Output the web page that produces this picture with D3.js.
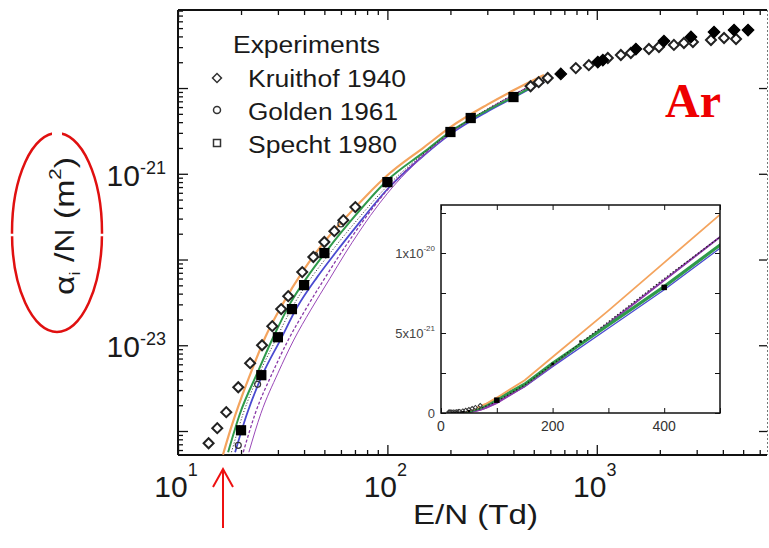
<!DOCTYPE html>
<html><head><meta charset="utf-8">
<script src="https://cdn.jsdelivr.net/npm/d3@7/dist/d3.min.js"></script>
<style>body{margin:0;background:#fff;} svg{display:block;font-family:"Liberation Sans",Arial,sans-serif;}</style>
</head><body><svg id="c" width="769" height="548"></svg>
<script>
// ---------- data ----------
const kruithofE = [14, 15.4, 17, 19.4, 22.1, 25.2, 28.2, 31.1, 33.6, 39.2, 44.3, 50, 55.8, 61.6, 70.3, 483, 528, 583, 794, 916, 1129, 1303, 1454, 1774, 1981, 2335, 2607, 2878, 3510, 4053, 4624];
const kruithofV = [7.2e-25, 1.08e-24, 1.66e-24, 3.24e-24, 6.18e-24, 1.0e-23, 1.67e-23, 2.64e-23, 3.74e-23, 7.13e-23, 1.07e-22, 1.6e-22, 2.14e-22, 2.88e-22, 4.09e-22, 1.05e-20, 1.17e-20, 1.31e-20, 1.71e-20, 1.85e-20, 2.24e-20, 2.43e-20, 2.56e-20, 2.85e-20, 3.01e-20, 3.18e-20, 3.35e-20, 3.44e-20, 3.63e-20, 3.83e-20, 3.73e-20];
const filledDiamondE = [673, 1011, 1069, 1537, 2093, 2817, 3630, 4525, 5277];
const filledDiamondV = [1.46e-20, 2.01e-20, 2.12e-20, 2.85e-20, 3.53e-20, 3.94e-20, 4.5e-20, 4.75e-20, 4.75e-20];
const goldenE = [19.4, 24, 45, 60];
const goldenV = [6.8e-25, 3.5e-24, 1.12e-22, 2.6e-22];
const spechtE = [20, 25, 30, 35, 40, 50, 100, 200, 250, 400];
const spechtV = [1.02e-24, 4.48e-24, 1.24e-23, 2.64e-23, 5.03e-23, 1.19e-22, 8.0e-22, 3.07e-21, 4.47e-21, 7.85e-21];

// model curves
const orangeE = [16.4, 17.7, 20.2, 22.6, 26.1, 31.8, 39.2, 49.4, 61.6, 80, 100, 150, 200, 300, 400, 500, 560];
const orangeV = [5.3e-25, 9.9e-25, 2.55e-24, 5.24e-24, 1.24e-23, 3.1e-23, 7.13e-23, 1.55e-22, 2.88e-22, 5.67e-22, 9.6e-22, 2.05e-21, 3.5e-21, 6.4e-21, 9.4e-21, 1.24e-20, 1.42e-20];
const greenE = [17.35, 19.8, 23.9, 28.5, 34.4, 41.4, 51.6, 70, 100, 150, 200, 300, 400, 500, 560];
const greenV = [5.66e-25, 1.61e-24, 4.72e-24, 1.24e-23, 3.1e-23, 6.23e-23, 1.29e-22, 3.22e-22, 8.4e-22, 1.8e-21, 3.1e-21, 5.5e-21, 7.9e-21, 1.05e-20, 1.18e-20];
const blueE = [18.74, 21.4, 25.5, 30.8, 37.1, 46.2, 56.4, 70, 100, 150, 200, 300, 400, 500, 560];
const blueV = [5.66e-25, 1.61e-24, 4.72e-24, 1.15e-23, 2.79e-23, 6.23e-23, 1.19e-22, 2.32e-22, 6.6e-22, 1.65e-21, 2.9e-21, 5.3e-21, 7.7e-21, 1.03e-20, 1.16e-20];
const purpleE = [20.5, 23.4, 28.2, 33.6, 40.5, 50, 60, 70, 80, 100, 150, 200, 300, 400, 500, 560];
const purpleV = [5.66e-25, 1.61e-24, 4.72e-24, 1.15e-23, 2.57e-23, 5.95e-23, 1.19e-22, 2.07e-22, 3.26e-22, 6.5e-22, 1.7e-21, 3.0e-21, 5.6e-21, 8.3e-21, 1.1e-20, 1.24e-20];
const purple2E = [21.8, 24.9, 30, 35.7, 43, 53, 63, 73, 83, 100, 150, 200, 300, 400, 500, 560];
const purple2V = [5.66e-25, 1.61e-24, 4.72e-24, 1.15e-23, 2.57e-23, 5.95e-23, 1.19e-22, 2.07e-22, 3.26e-22, 5.9e-22, 1.65e-21, 2.95e-21, 5.6e-21, 8.3e-21, 1.1e-20, 1.24e-20];
const dottedE = [18, 20.5, 24.5, 29.5, 35.5, 43.5, 54, 70, 100, 150, 200, 300, 400, 500, 560];
const dottedV = [5.66e-25, 1.61e-24, 4.72e-24, 1.2e-23, 2.9e-23, 6.23e-23, 1.24e-22, 2.7e-22, 7.2e-22, 1.75e-21, 3.05e-21, 5.7e-21, 8.4e-21, 1.1e-20, 1.24e-20];

// ticks / labels
const xMajor = [10, 100, 1000];
const xMajorExp = ["1", "2", "3"];
const yLabelVals = [1e-21, 1e-23];
const yLabelExp = ["-21", "-23"];
const insetXTicks = [0, 100, 200, 300, 400, 500];
const insetXLabels = [0, 200, 400];
const insetYTicks = [0, 2.5e-21, 5e-21, 7.5e-21, 1e-20, 1.25e-20];
const legendNames = ["Kruithof 1940", "Golden 1961", "Specht 1980"];

// ---------- layout ----------
const svg = d3.select("#c");
const L = 178, R = 767, T = 10, B = 455;
const x = d3.scaleLog().domain([10, 6500]).range([L, R]);
const y = d3.scaleLog().domain([5.25e-25, 8.13e-20]).range([B, T]);

svg.append("defs").append("clipPath").attr("id", "clipMain")
  .append("rect").attr("x", L).attr("y", T).attr("width", R - L).attr("height", B - T);

const zip = (a, b) => a.map((v, i) => [v, b[i]]);
const curves = [
  {E: blueE, V: blueV, c: "#4a4ad0", w: 1.8, d: null},
  {E: purple2E, V: purple2V, c: "#9a48b8", w: 1, d: null},
  {E: purpleE, V: purpleV, c: "#8a3aa8", w: 1.3, d: "3,2"},
  {E: greenE, V: greenV, c: "#2f9a4a", w: 2, d: null},
  {E: dottedE, V: dottedV, c: "#222", w: 1, d: "1,2"},
  {E: orangeE, V: orangeV, c: "#f4a45e", w: 2.2, d: null}
];

// ---------- ticks (main) ----------
function logTicks(lo, hi) {
  const out = [];
  for (let k = -26; k <= 4; k++) for (let m = 1; m <= 9; m++) {
    const v = m * Math.pow(10, k);
    if (v >= lo * 0.999 && v <= hi * 1.001) out.push({v, major: m === 1});
  }
  return out;
}
const xt = logTicks(10, 6500);
const yt = logTicks(5.25e-25, 8.13e-20);
const axG = svg.append("g").attr("stroke", "#111");
function drawAxis(gen, vals, size, tr) {
  const g = axG.append("g").attr("transform", tr)
    .call(gen.tickValues(vals).tickSize(size).tickFormat(""));
  g.select(".domain").remove();
  g.selectAll("line").attr("stroke", "#111").attr("stroke-width", 1.3);
}
drawAxis(d3.axisBottom(x), xt.filter(d => d.major).map(d => d.v), -10, `translate(0,${B})`);
drawAxis(d3.axisBottom(x), xt.filter(d => !d.major).map(d => d.v), -5, `translate(0,${B})`);
drawAxis(d3.axisTop(x), xt.filter(d => d.major).map(d => d.v), -10, `translate(0,${T})`);
drawAxis(d3.axisTop(x), xt.filter(d => !d.major).map(d => d.v), -5, `translate(0,${T})`);
drawAxis(d3.axisLeft(y), yt.filter(d => d.major).map(d => d.v), -10, `translate(${L},0)`);
drawAxis(d3.axisLeft(y), yt.filter(d => !d.major).map(d => d.v), -5, `translate(${L},0)`);
drawAxis(d3.axisRight(y), yt.filter(d => d.major).map(d => d.v), -8, `translate(${R},0)`);

// frame
svg.append("line").attr("x1", L).attr("x2", L).attr("y1", T).attr("y2", B).attr("stroke", "#111").attr("stroke-width", 2);
svg.append("line").attr("x1", L).attr("x2", R).attr("y1", B).attr("y2", B).attr("stroke", "#111").attr("stroke-width", 2);
svg.append("line").attr("x1", L).attr("x2", R).attr("y1", T).attr("y2", T).attr("stroke", "#111").attr("stroke-width", 2);
svg.append("line").attr("x1", R + 0.5).attr("x2", R + 0.5).attr("y1", T).attr("y2", B).attr("stroke", "#777").attr("stroke-width", 1).attr("stroke-dasharray", "2,2");

// curves (main)
const lineMain = d3.line().x(d => x(d[0])).y(d => y(d[1])).curve(d3.curveMonotoneX);
const cg = svg.append("g").attr("clip-path", "url(#clipMain)");
curves.forEach(c => {
  cg.append("path").attr("d", lineMain(zip(c.E, c.V))).attr("fill", "none")
    .attr("stroke", c.c).attr("stroke-width", c.w).attr("stroke-dasharray", c.d);
});

// markers (main)
const sq = d3.symbol().type(d3.symbolSquare);
const mg = svg.append("g").attr("clip-path", "url(#clipMain)");
mg.selectAll(".gc").data(zip(goldenE, goldenV)).join("circle")
  .attr("cx", d => x(d[0])).attr("cy", d => y(d[1])).attr("r", 3)
  .attr("fill", "none").attr("stroke", "#333").attr("stroke-width", 1.2);
mg.selectAll(".kd").data(zip(kruithofE, kruithofV)).join("path")
  .attr("d", sq.size(50)()).attr("transform", d => `translate(${x(d[0])},${y(d[1])}) rotate(45)`)
  .attr("fill", "#fff").attr("stroke", "#222").attr("stroke-width", 2);
mg.selectAll(".fd").data(zip(filledDiamondE, filledDiamondV)).join("path")
  .attr("d", sq.size(70)()).attr("transform", d => `translate(${x(d[0])},${y(d[1])}) rotate(45)`)
  .attr("fill", "#000").attr("stroke", "#000").attr("stroke-width", 1);
mg.selectAll(".sp").data(zip(spechtE, spechtV)).join("path")
  .attr("d", sq.size(105)()).attr("transform", d => `translate(${x(d[0])},${y(d[1])})`)
  .attr("fill", "#000");

// tick labels (main)
xMajor.forEach((v, i) => {
  const t = svg.append("text").attr("x", x(v) - 2).attr("y", 497).attr("text-anchor", "middle")
    .attr("font-size", 30).attr("fill", "#1a1a1a");
  t.append("tspan").text("10");
  t.append("tspan").attr("font-size", 18).attr("dy", -21).text(xMajorExp[i]);
});
yLabelVals.forEach((v, i) => {
  const t = svg.append("text").attr("x", 166).attr("y", y(v) + 12).attr("text-anchor", "end")
    .attr("font-size", 30).attr("fill", "#1a1a1a");
  t.append("tspan").text("10");
  t.append("tspan").attr("font-size", 18).attr("dy", -12).text(yLabelExp[i]);
});

// axis titles
svg.append("text").attr("x", 413).attr("y", 524).attr("font-size", 28).attr("fill", "#1a1a1a")
  .attr("textLength", 125).attr("lengthAdjust", "spacingAndGlyphs").text("E/N (Td)");
const yl = svg.append("text").attr("transform", "translate(74,226) rotate(-90)")
  .attr("text-anchor", "middle").attr("font-size", 28).attr("fill", "#1a1a1a")
  .attr("textLength", 138).attr("lengthAdjust", "spacingAndGlyphs");
yl.append("tspan").text("α");
yl.append("tspan").attr("font-size", 15).attr("dy", 6).text("i");
yl.append("tspan").attr("dy", -6).text(" /N (m");
yl.append("tspan").attr("font-size", 17).attr("dy", -13).text("2");
yl.append("tspan").attr("dy", 13).text(")");

// red annotations
svg.append("ellipse").attr("cx", 57).attr("cy", 232.5).attr("rx", 45).attr("ry", 99.5)
  .attr("fill", "none").attr("stroke", "#e01010").attr("stroke-width", 2.5);
svg.append("line").attr("x1", 0).attr("x2", 112).attr("y1", 235).attr("y2", 235).attr("stroke", "#fff").attr("stroke-width", 2.5);
svg.append("rect").attr("x", 52).attr("y", 130).attr("width", 10).attr("height", 5).attr("fill", "#fff");
svg.append("text").attr("x", 665).attr("y", 117).attr("font-family", "Liberation Serif, Times New Roman, serif")
  .attr("font-weight", "bold").attr("font-size", 48).attr("fill", "#ee0000").text("Ar");
svg.append("path").attr("d", "M223,528 L223,470 M213,487 L223,469 L233,487")
  .attr("fill", "none").attr("stroke", "#ee1111").attr("stroke-width", 2);

// legend
svg.append("text").attr("x", 233).attr("y", 53).attr("font-size", 23).attr("fill", "#1a1a1a")
  .attr("textLength", 147).attr("lengthAdjust", "spacingAndGlyphs").text("Experiments");
const legY = [87, 120, 153], legLen = [158, 150, 149];
legendNames.forEach((n, i) => {
  svg.append("text").attr("x", 248).attr("y", legY[i]).attr("font-size", 23).attr("fill", "#1a1a1a")
    .attr("textLength", legLen[i]).attr("lengthAdjust", "spacingAndGlyphs").text(n);
});
svg.append("path").attr("d", sq.size(40)()).attr("transform", "translate(217,78) rotate(45)")
  .attr("fill", "#fff").attr("stroke", "#333").attr("stroke-width", 1.5);
svg.append("circle").attr("cx", 217).attr("cy", 110).attr("r", 3.5)
  .attr("fill", "none").attr("stroke", "#333").attr("stroke-width", 1.5);
svg.append("path").attr("d", sq.size(49)()).attr("transform", "translate(217,143)")
  .attr("fill", "#fff").attr("stroke", "#333").attr("stroke-width", 1.5);

// ---------- inset ----------
const iL = 441, iR = 720, iT = 205, iB = 413;
const xi = d3.scaleLinear().domain([0, 500]).range([iL, iR]);
const yi = d3.scaleLinear().domain([0, 1.3e-20]).range([iB, iT]);
svg.select("defs").append("clipPath").attr("id", "clipInset")
  .append("rect").attr("x", iL).attr("y", iT).attr("width", iR - iL).attr("height", iB - iT);
svg.append("rect").attr("x", iL).attr("y", iT).attr("width", iR - iL).attr("height", iB - iT).attr("fill", "#fff");
const lineIn = d3.line().x(d => xi(d[0])).y(d => yi(d[1]));
const ig = svg.append("g").attr("clip-path", "url(#clipInset)");
const insetStyle = {"#4a4ad0": 1.3, "#9a48b8": 1.2, "#8a3aa8": 2, "#2f9a4a": 3.2, "#222": 1.2, "#f4a45e": 1.8};
curves.forEach(c => {
  ig.append("path").attr("d", lineIn(zip(c.E, c.V))).attr("fill", "none")
    .attr("stroke", c.c).attr("stroke-width", insetStyle[c.c]).attr("stroke-dasharray", c.c === "#222" ? "1.5,2" : null);
});
ig.selectAll(".ik").data(zip(kruithofE, kruithofV).filter(d => d[0] <= 400)).join("path")
  .attr("d", sq.size(8)()).attr("transform", d => `translate(${xi(d[0])},${yi(d[1]) - 1}) rotate(45)`)
  .attr("fill", "#fff").attr("stroke", "#333").attr("stroke-width", 1);
ig.selectAll(".is").data(zip(spechtE, spechtV).filter(d => d[0] <= 400)).join("path")
  .attr("d", d => sq.size(d[0] === 100 || d[0] === 400 ? 30 : 6)()).attr("transform", d => `translate(${xi(d[0])},${yi(d[1])})`)
  .attr("fill", "#000");

const iax = svg.append("g");
function insetAxis(gen, vals, tr) {
  const g = iax.append("g").attr("transform", tr).call(gen.tickValues(vals).tickSize(-5).tickFormat(""));
  g.select(".domain").remove();
  g.selectAll("line").attr("stroke", "#111").attr("stroke-width", 1);
}
insetAxis(d3.axisBottom(xi), insetXTicks, `translate(0,${iB})`);
insetAxis(d3.axisTop(xi), insetXTicks, `translate(0,${iT})`);
insetAxis(d3.axisLeft(yi), insetYTicks, `translate(${iL},0)`);
insetAxis(d3.axisRight(yi), insetYTicks, `translate(${iR},0)`);
svg.append("rect").attr("x", iL).attr("y", iT).attr("width", iR - iL).attr("height", iB - iT)
  .attr("fill", "none").attr("stroke", "#111").attr("stroke-width", 1.5);

insetXLabels.forEach(v => {
  svg.append("text").attr("x", xi(v)).attr("y", 431).attr("text-anchor", "middle")
    .attr("font-size", 14).attr("fill", "#333").text(v);
});
const iyLab = [{v: 0, m: "0", e: ""}, {v: 5e-21, m: "5x10", e: "-21"}, {v: 1e-20, m: "1x10", e: "-20"}];
iyLab.forEach(d => {
  const t = svg.append("text").attr("x", 435).attr("y", yi(d.v) + 5).attr("text-anchor", "end")
    .attr("font-size", 13).attr("fill", "#444");
  t.append("tspan").text(d.m);
  if (d.e) t.append("tspan").attr("font-size", 8).attr("dy", -7).text(d.e);
});
</script></body></html>
